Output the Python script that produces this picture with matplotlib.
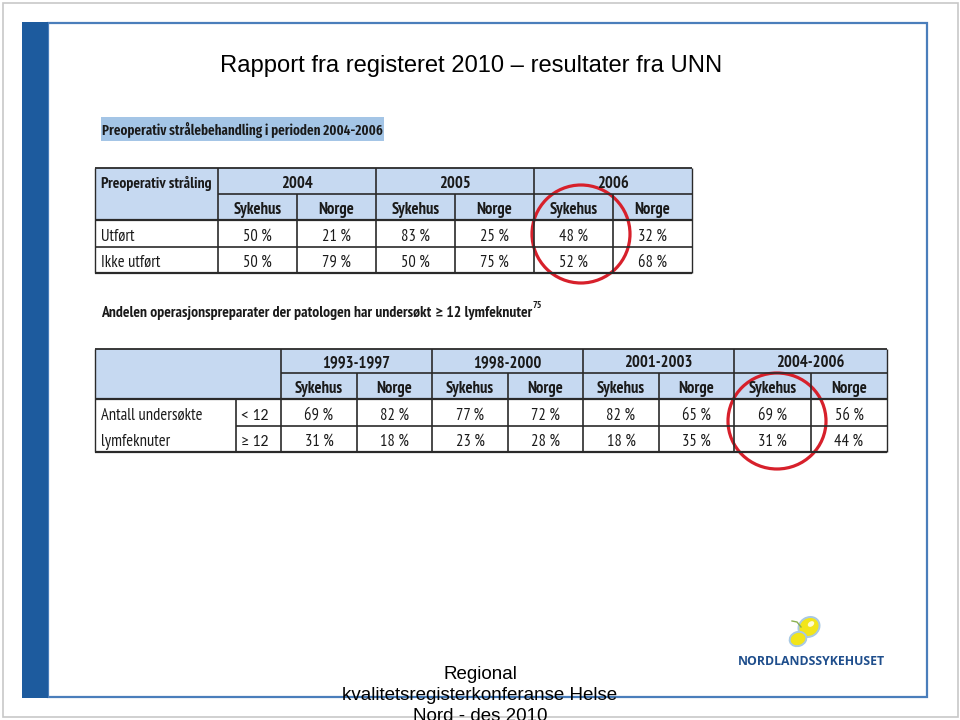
import matplotlib
matplotlib.use("Agg")
import matplotlib.pyplot as plt
from matplotlib.patches import Rectangle, Ellipse

# ---------------- data ----------------
title = "Rapport fra registeret 2010 \u2013 resultater fra UNN"
heading1 = "Preoperativ strålebehandling i perioden 2004-2006"
heading2_parts = ["Andelen operasjonspreparater der patologen har undersøkt ", "\u2265", " 12 lymfeknuter"]
heading2_sup = "75"

t1_corner = "Preoperativ stråling"
t1_years = ["2004", "2005", "2006"]
t1_sub = ["Sykehus", "Norge"]
t1_rows = ["Utført", "Ikke utført"]
t1_utfort = [50, 21, 83, 25, 48, 32]
t1_ikke = [50, 79, 50, 75, 52, 68]

t2_periods = ["1993-1997", "1998-2000", "2001-2003", "2004-2006"]
t2_sub = ["Sykehus", "Norge"]
t2_label = ["Antall undersøkte", "lymfeknuter"]
t2_groups = ["< 12", "\u2265 12"]
t2_lt12 = [69, 82, 77, 72, 82, 65, 69, 56]
t2_ge12 = [31, 18, 23, 28, 18, 35, 31, 44]

footer = ["Regional", "kvalitetsregisterkonferanse Helse", "Nord - des 2010"]
logo_text = "NORDLANDSSYKEHUSET"

# ---------------- styles ----------------
NAR = ["PT Sans Narrow", "Carlito", "DejaVu Sans"]
CAL = ["Carlito", "DejaVu Sans"]
XCOND = ["Fira Sans Extra Condensed", "PT Sans Narrow", "DejaVu Sans"]
SANS = ["Liberation Sans", "DejaVu Sans"]
HDR = "#c6d9f1"
HIL = "#a4c5e6"
LINE = "#2a2a2a"
RED = "#d7202b"
TXT = "#1a1a1a"

fig = plt.figure(figsize=(9.6, 7.2), dpi=100)
ax = fig.add_axes([0, 0, 1, 1])
ax.set_xlim(0, 960)
ax.set_ylim(720, 0)
ax.axis("off")
renderer = fig.canvas.get_renderer()


def fit(t, width):
    w = t.get_window_extent(renderer=renderer).width
    t.set_fontsize(t.get_fontsize() * width / w)
    return t


# outer grey border
ax.add_patch(Rectangle((2.5, 2.5), 955, 714, fill=False, ec="#c8c8c8", lw=1.2))
# slide frame
ax.add_patch(Rectangle((48, 23), 879, 674, fill=False, ec="#4a7ebb", lw=1.6))
ax.add_patch(Rectangle((22, 22), 26, 676, fc="#1d5b9e", ec="none"))

t = ax.text(471, 72, title, ha="center", va="baseline", fontsize=17, family=SANS, color="black")
fit(t, 504)

# heading 1 with highlight
ax.add_patch(Rectangle((101, 117), 283, 24, fc=HIL, ec="none"))
t = ax.text(102, 135, heading1, ha="left", va="baseline", fontsize=12, weight="semibold", family=XCOND, color=TXT)
fit(t, 281)


def hline(y, x0, x1, lw=1.0, c=LINE):
    ax.plot([x0, x1], [y, y], color=c, lw=lw, solid_capstyle="butt")


def vline(x, y0, y1, lw=1.0, c=LINE):
    ax.plot([x, x], [y0, y1], color=c, lw=lw, solid_capstyle="butt")


FS = 11.9
B = 6  # baseline offset from row bottom

# ---------------- table 1 ----------------
tx = [95, 218, 297, 376, 455, 534, 613, 692]
ty = [168, 194, 220, 247, 273]
ax.add_patch(Rectangle((tx[0], ty[0]), tx[-1] - tx[0], ty[2] - ty[0], fc=HDR, ec="none"))
hline(ty[0], tx[0], tx[-1], 1.3)
hline(ty[1], tx[1], tx[-1], 1.2)
hline(ty[2], tx[0], tx[-1], 1.6)
hline(ty[3], tx[0], tx[-1], 1.2)
hline(ty[4], tx[0], tx[-1], 1.6)
vline(tx[0], ty[0], ty[4], 1.0)
vline(tx[-1], ty[0], ty[4], 1.0)
for i, x in enumerate(tx[1:-1]):
    if i % 2 == 0:
        vline(x, ty[0], ty[4], 1.2)
    else:
        vline(x, ty[1], ty[4], 1.2)
t = ax.text(tx[0] + 6, ty[1] - B, t1_corner, ha="left", va="baseline", fontsize=FS, weight="bold", family=NAR, color=TXT)
fit(t, 110)
for k, yr in enumerate(t1_years):
    xc = (tx[1 + 2 * k] + tx[3 + 2 * k]) / 2
    ax.text(xc, ty[1] - B, yr, ha="center", va="baseline", fontsize=FS, weight="bold", family=NAR, color=TXT)
    for j, s in enumerate(t1_sub):
        xc2 = (tx[1 + 2 * k + j] + tx[2 + 2 * k + j]) / 2
        ax.text(xc2, ty[2] - B, s, ha="center", va="baseline", fontsize=FS, weight="bold", family=NAR, color=TXT)
for r, (lab, vals) in enumerate(zip(t1_rows, [t1_utfort, t1_ikke])):
    yb = ty[3 + r] - B
    ax.text(tx[0] + 6, yb, lab, ha="left", va="baseline", fontsize=FS, family=NAR, color=TXT)
    for c, v in enumerate(vals):
        xc = (tx[1 + c] + tx[2 + c]) / 2
        ax.text(xc, yb, f"{v} %", ha="center", va="baseline", fontsize=FS, family=NAR, color=TXT)

ax.add_patch(Ellipse((581, 234), 98, 98, fill=False, ec=RED, lw=2.3))

# heading 2 (the >= sign drawn in Carlito so that it has the upright form)
full = ax.text(101, 317, "".join(heading2_parts), ha="left", va="baseline", fontsize=11.5, weight="bold", family=NAR)
fit(full, 428)
h2fs = full.get_fontsize()
full.remove()
xcur = 101
for k, part in enumerate(heading2_parts):
    fam = CAL if k == 1 else NAR
    tp = ax.text(xcur, 317, part, ha="left", va="baseline", fontsize=h2fs * (1.05 if k == 1 else 1), weight="bold", family=fam, color=TXT)
    xcur = tp.get_window_extent(renderer=renderer).x1
ax.text(xcur + 1, 308, heading2_sup, ha="left", va="baseline", fontsize=7, weight="bold", family=NAR, color=TXT)

# ---------------- table 2 ----------------
ux = [95, 236, 281, 357, 432, 508, 583, 659, 734, 811, 887]
uy = [349, 373, 399, 426, 452]
ax.add_patch(Rectangle((ux[0], uy[0]), ux[-1] - ux[0], uy[2] - uy[0], fc=HDR, ec="none"))
hline(uy[0], ux[0], ux[-1], 1.3)
hline(uy[1], ux[2], ux[-1], 1.2)
hline(uy[2], ux[0], ux[-1], 1.6)
hline(uy[3], ux[1], ux[-1], 1.2)
hline(uy[4], ux[0], ux[-1], 1.6)
vline(ux[0], uy[0], uy[4], 1.0)
vline(ux[-1], uy[0], uy[4], 1.0)
vline(ux[1], uy[2], uy[4], 1.2)
for i, x in enumerate(ux[2:-1]):
    if i % 2 == 0:
        vline(x, uy[0], uy[4], 1.2)
    else:
        vline(x, uy[1], uy[4], 1.2)
for k, p in enumerate(t2_periods):
    xc = (ux[2 + 2 * k] + ux[4 + 2 * k]) / 2
    ax.text(xc, uy[1] - B, p, ha="center", va="baseline", fontsize=FS, weight="bold", family=NAR, color=TXT)
    for j, s in enumerate(t2_sub):
        xc2 = (ux[2 + 2 * k + j] + ux[3 + 2 * k + j]) / 2
        ax.text(xc2, uy[2] - B, s, ha="center", va="baseline", fontsize=FS, weight="bold", family=NAR, color=TXT)
for r, (lab, grp, vals) in enumerate(zip(t2_label, t2_groups, [t2_lt12, t2_ge12])):
    yb = uy[3 + r] - B
    ax.text(ux[0] + 6, yb, lab, ha="left", va="baseline", fontsize=FS, family=NAR, color=TXT)
    ax.text(ux[1] + 5, yb, grp, ha="left", va="baseline", fontsize=FS * 0.95, family=CAL, color=TXT)
    for c, v in enumerate(vals):
        xc = (ux[2 + c] + ux[3 + c]) / 2
        ax.text(xc, yb, f"{v} %", ha="center", va="baseline", fontsize=FS, family=NAR, color=TXT)

ax.add_patch(Ellipse((777, 421), 98, 96, fill=False, ec=RED, lw=2.3))

# ---------------- logo ----------------
ax.add_patch(Ellipse((809, 627), 22, 19, angle=-35, fc="#f2e51a", ec="#a9c9e3", lw=1.4))
ax.add_patch(Ellipse((798, 639), 17, 14, angle=-20, fc="#f2e51a", ec="#a9c9e3", lw=1.4))
ax.add_patch(Ellipse((811, 624), 7, 5, angle=-35, fc="#fffbd0", ec="none"))
ax.plot([801, 797, 792], [627, 622, 621], color="#8ab04f", lw=1)
t = ax.text(811, 665, logo_text, ha="center", va="baseline", fontsize=9, weight="bold", family=["Open Sans", "DejaVu Sans"], color="#1f4e8c")
fit(t, 147)

# ---------------- footer ----------------
for i, line in enumerate(footer):
    ax.text(480, 679 + 21 * i, line, ha="center", va="baseline", fontsize=13.5, family=SANS, color="black")

fig.savefig("out.png", dpi=100)
